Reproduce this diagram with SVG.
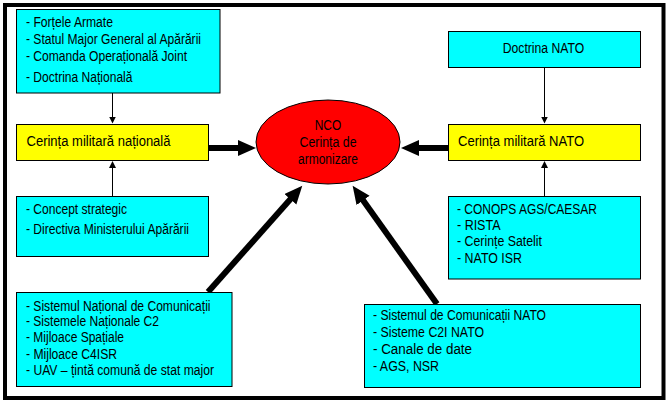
<svg xmlns="http://www.w3.org/2000/svg" width="668" height="404" viewBox="0 0 668 404">
<style>
.box{stroke:#000;stroke-width:1}
.cy{fill:#00FFFF}
.ye{fill:#FFFF00}
text{font-family:"Liberation Sans",Arial,sans-serif;font-size:14px;fill:#000}
.mid{text-anchor:middle}
.thin{stroke:#000;stroke-width:1;fill:none}
.thick{stroke:#000;stroke-width:6;fill:none}
</style>
<defs>
<marker id="big" markerUnits="userSpaceOnUse" markerWidth="19" markerHeight="17" refX="1" refY="8" orient="auto">
<path d="M0,0 L18,8 L0,16 z" fill="#000"/>
</marker>
<marker id="small" markerUnits="userSpaceOnUse" markerWidth="8" markerHeight="7" refX="0.5" refY="3.5" orient="auto">
<path d="M0,0 L7,3.5 L0,7 z" fill="#000"/>
</marker>
</defs>
<rect x="5" y="5" width="658.5" height="393" fill="#fff" stroke="#000" stroke-width="4"/>

<g id="connectors">
<line class="thin" x1="112.5" y1="93" x2="112.5" y2="117" marker-end="url(#small)"/>
<line class="thin" x1="112.5" y1="196" x2="112.5" y2="167.5" marker-end="url(#small)"/>
<line class="thin" x1="544.5" y1="67.5" x2="544.5" y2="117" marker-end="url(#small)"/>
<line class="thin" x1="544.5" y1="196.5" x2="544.5" y2="167.5" marker-end="url(#small)"/>
<line class="thick" x1="209" y1="148" x2="239" y2="148" marker-end="url(#big)"/>
<line class="thick" x1="448" y1="148" x2="418" y2="148" marker-end="url(#big)"/>
<line class="thick" x1="208" y1="292" x2="291" y2="198.5" marker-end="url(#big)"/>
<line class="thick" x1="437" y1="304" x2="362.5" y2="199.6" marker-end="url(#big)"/>
</g>

<g id="n-national-sources">
<rect class="box cy" x="16.5" y="9.5" width="203.5" height="83.5"/>
<text x="26" y="27" textLength="87" lengthAdjust="spacingAndGlyphs">- Forțele Armate</text>
<text x="26" y="43.5" textLength="175" lengthAdjust="spacingAndGlyphs">- Statul Major General al Apărării</text>
<text x="26" y="61" textLength="161" lengthAdjust="spacingAndGlyphs">- Comanda Operațională Joint</text>
<text x="26" y="82" textLength="106.5" lengthAdjust="spacingAndGlyphs">- Doctrina Națională</text>
</g>

<g id="n-national-req">
<rect class="box ye" x="16.5" y="124.5" width="192" height="36"/>
<text x="26.5" y="145.5" textLength="144" lengthAdjust="spacingAndGlyphs">Cerința militară națională</text>
</g>

<g id="n-concept">
<rect class="box cy" x="16.5" y="196.5" width="192" height="60"/>
<text x="26" y="213.5" textLength="101" lengthAdjust="spacingAndGlyphs">- Concept strategic</text>
<text x="26" y="233.5" textLength="163" lengthAdjust="spacingAndGlyphs">- Directiva Ministerului Apărării</text>
</g>

<g id="n-national-systems">
<rect class="box cy" x="16.5" y="292.5" width="215.5" height="94"/>
<text x="26" y="310.5" textLength="184.5" lengthAdjust="spacingAndGlyphs">- Sistemul Național de Comunicații</text>
<text x="26" y="325.5" textLength="133" lengthAdjust="spacingAndGlyphs">- Sistemele Naționale C2</text>
<text x="26" y="342" textLength="98" lengthAdjust="spacingAndGlyphs">- Mijloace Spațiale</text>
<text x="26" y="358.5" textLength="91" lengthAdjust="spacingAndGlyphs">- Mijloace C4ISR</text>
<text x="26" y="375" textLength="188" lengthAdjust="spacingAndGlyphs">- UAV – țintă comună de stat major</text>
</g>

<g id="n-nco">
<ellipse cx="328" cy="142" rx="72" ry="42" fill="#FF0000" stroke="#000" stroke-width="1"/>
<text class="mid" x="328" y="129.5" textLength="26.5" lengthAdjust="spacingAndGlyphs">NCO</text>
<text class="mid" x="328" y="147" textLength="57" lengthAdjust="spacingAndGlyphs">Cerința de</text>
<text class="mid" x="328" y="163.5" textLength="60" lengthAdjust="spacingAndGlyphs">armonizare</text>
</g>

<g id="n-nato-doctrine">
<rect class="box cy" x="448.5" y="31.5" width="192" height="36"/>
<text class="mid" x="543.5" y="52.5" textLength="81.5" lengthAdjust="spacingAndGlyphs">Doctrina NATO</text>
</g>

<g id="n-nato-req">
<rect class="box ye" x="448.5" y="124.5" width="192" height="36"/>
<text x="458" y="145.5" textLength="126" lengthAdjust="spacingAndGlyphs">Cerința militară NATO</text>
</g>

<g id="n-nato-sources">
<rect class="box cy" x="448.5" y="196.5" width="192" height="82.5"/>
<text x="457" y="213.5" textLength="140" lengthAdjust="spacingAndGlyphs">- CONOPS AGS/CAESAR</text>
<text x="457" y="229.5" textLength="43.5" lengthAdjust="spacingAndGlyphs">- RISTA</text>
<text x="457" y="246" textLength="85" lengthAdjust="spacingAndGlyphs">- Cerințe Satelit</text>
<text x="457" y="262.5" textLength="65" lengthAdjust="spacingAndGlyphs">- NATO ISR</text>
</g>

<g id="n-nato-systems">
<rect class="box cy" x="364.5" y="304.5" width="276" height="83"/>
<text x="373" y="320" textLength="173" lengthAdjust="spacingAndGlyphs">- Sistemul de Comunicații NATO</text>
<text x="373" y="337" textLength="111" lengthAdjust="spacingAndGlyphs">- Sisteme C2I NATO</text>
<text x="373" y="354" textLength="99" lengthAdjust="spacingAndGlyphs">- Canale de date</text>
<text x="373" y="370.5" textLength="66" lengthAdjust="spacingAndGlyphs">- AGS, NSR</text>
</g>
</svg>
